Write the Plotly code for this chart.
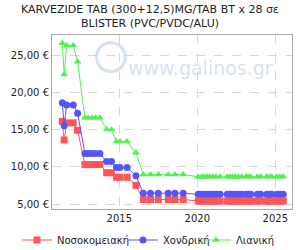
import plotly.graph_objects as go

title_lines = ["KARVEZIDE TAB (300+12,5)MG/TAB BT x 28 σε", "BLISTER (PVC/PVDC/ALU)"]

dates = [2011.35, 2011.47, 2011.63, 2012.05, 2012.33, 2012.80, 2013.00, 2013.25, 2013.47, 2013.76,
         2014.19, 2014.50, 2014.82, 2015.05, 2015.50, 2016.07, 2016.54, 2017.00, 2017.50, 2018.14,
         2018.57, 2019.10,
         2020.06, 2020.28, 2020.45, 2020.64, 2020.81, 2020.99, 2021.20, 2021.46, 2021.92, 2022.10,
         2022.27, 2022.44, 2022.63, 2022.85, 2023.12, 2023.27, 2023.42, 2023.85, 2024.06, 2024.45,
         2024.62, 2024.77, 2025.09, 2025.30, 2025.51]

hospital = [16.1, 13.6, 15.9, 15.9, 14.9, 10.3, 10.3, 10.3, 10.3, 10.3,
            9.2, 9.2, 8.6, 8.6, 8.6, 7.5, 5.6, 5.6, 5.6, 5.6,
            5.6, 5.6] + [5.4] * 25
wholesale = [18.6, 15.5, 18.3, 18.3, 17.2, 11.8, 11.8, 11.8, 11.8, 11.8,
             10.7, 10.7, 9.9, 9.9, 9.9, 8.8, 6.45, 6.45, 6.45, 6.45,
             6.45, 6.45] + [6.3] * 25
retail = [26.6, 22.4, 26.3, 26.3, 24.1, 16.6, 16.6, 16.6, 16.6, 16.6,
          15.0, 15.0, 13.4, 13.4, 13.4, 11.9, 8.95, 8.95, 8.95, 8.95,
          8.95, 8.95] + [8.65] * 25

series_names = ["Νοσοκομειακή", "Χονδρική", "Λιανική"]
y_ticks = [5, 10, 15, 20, 25]
y_tick_text = ["5,00 €", "10,00 €", "15,00 €", "20,00 €", "25,00 €"]
x_ticks = [2015, 2020, 2025]

fig = go.Figure()
styles = [("#ff5555", "square"), ("#5555ff", "circle"), ("#55ee55", "triangle-up")]
legend_ids = ["legend", "legend2", "legend3"]
for name, vals, (col, sym), lg in zip(series_names, [hospital, wholesale, retail], styles, legend_ids):
    fig.add_trace(go.Scatter(x=dates, y=vals, name=name, mode="lines+markers",
                             line=dict(color=col, width=1),
                             marker=dict(color=col, symbol=sym, size=7), legend=lg))

fig.add_annotation(text="www.galinos.gr", xref="paper", yref="paper", x=0.62, y=0.885,
                   showarrow=False, font=dict(size=19, color="rgba(190,205,228,0.6)", family="DejaVu Sans"))
fig.add_shape(type="circle", xref="paper", yref="paper", x0=0.185, x1=0.305, y0=0.79, y1=0.955,
              line=dict(color="rgba(190,205,228,0.6)", width=3), layer="below")

for i, line in enumerate(title_lines):
    fig.add_annotation(text=line, xref="paper", yref="paper", x=(150 - 52) / 240,
                       y=1 + (25 - 14 * i) / 174, xanchor="center", yanchor="middle",
                       showarrow=False, font=dict(size=11, color="#222", family="DejaVu Sans"))

legend_common = dict(orientation="h", xref="container", yref="container", xanchor="left",
                     y=0.04, yanchor="middle", font=dict(size=10, color="#222"), itemwidth=30,
                     bgcolor="rgba(0,0,0,0)")
legend_lefts = [17, 123, 196]

fig.update_layout(
    width=300, height=250,
    margin=dict(l=52, r=8, t=35, b=41, autoexpand=False),
    paper_bgcolor="white", plot_bgcolor="white",
    font=dict(family="DejaVu Sans", size=10, color="#222"),
    showlegend=True,
    legend=dict(legend_common, x=legend_lefts[0] / 300),
    legend2=dict(legend_common, x=legend_lefts[1] / 300),
    legend3=dict(legend_common, x=legend_lefts[2] / 300),
    xaxis=dict(range=[2010.69, 2026.07], tickvals=x_ticks, ticktext=[str(v) for v in x_ticks],
               showgrid=True, gridcolor="#d8d8d8", griddash="dash", gridwidth=1,
               showline=True, linecolor="#aaaaaa", linewidth=1, mirror=True,
               zeroline=False, ticks="", tickfont=dict(size=10)),
    yaxis=dict(range=[4.33, 27.7], tickvals=y_ticks, ticktext=y_tick_text,
               showgrid=True, gridcolor="#d8d8d8", griddash="dash", gridwidth=1,
               showline=True, linecolor="#aaaaaa", linewidth=1, mirror=True,
               zeroline=False, ticks="", tickfont=dict(size=10)),
)

fig.write_html("out.html")
